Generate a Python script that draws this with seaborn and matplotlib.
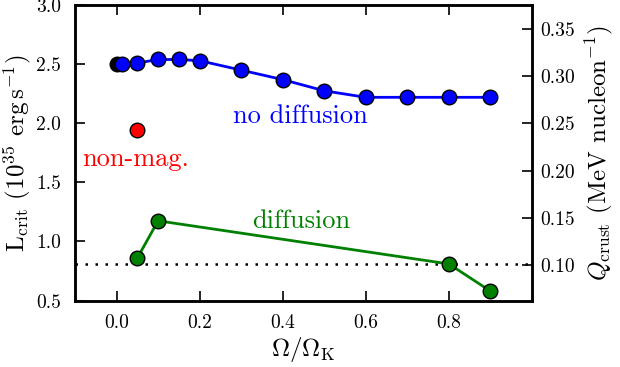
import numpy as np
import pandas as pd
import matplotlib
matplotlib.use("Agg")
import matplotlib.pyplot as plt
import seaborn as sns

# ---- data ----
omega_nodiff = [0.012, 0.05, 0.10, 0.15, 0.20, 0.30, 0.40, 0.50, 0.60, 0.70, 0.80, 0.90]
lcrit_nodiff = [2.50, 2.51, 2.54, 2.54, 2.53, 2.45, 2.37, 2.275, 2.22, 2.22, 2.22, 2.22]

omega_diff = [0.05, 0.10, 0.80, 0.90]
lcrit_diff = [0.86, 1.175, 0.81, 0.58]

omega_zero = [0.0]
lcrit_zero = [2.50]

omega_nonmag = [0.05]
lcrit_nonmag = [1.94]

l_ref = 0.81   # dotted reference level

xticks = [0.0, 0.2, 0.4, 0.6, 0.8]
yticks_l = [0.5, 1.0, 1.5, 2.0, 2.5, 3.0]
yticks_r = [0.10, 0.15, 0.20, 0.25, 0.30, 0.35]

sns.set_style("ticks")
plt.rcParams["font.family"] = "serif"
plt.rcParams["font.serif"] = ["cmr10", "DejaVu Serif"]
plt.rcParams["mathtext.fontset"] = "cm"
plt.rcParams["axes.formatter.use_mathtext"] = True
plt.rcParams["axes.unicode_minus"] = False
plt.rcParams["axes.edgecolor"] = "black"
plt.rcParams["xtick.color"] = "black"
plt.rcParams["ytick.color"] = "black"
plt.rcParams["axes.labelcolor"] = "black"

fig = plt.figure(figsize=(6.2, 3.67), dpi=100)
ax = fig.add_axes([0.121, 0.181, 0.737, 0.805])

ax.axhline(l_ref, color="black", linestyle=(0, (1, 3)), linewidth=1.8, zorder=1)

df_nd = pd.DataFrame({"x": omega_nodiff, "y": lcrit_nodiff})
df_d = pd.DataFrame({"x": omega_diff, "y": lcrit_diff})

mk = dict(marker="o", markersize=10.5, markeredgecolor="black", markeredgewidth=1.0)

sns.lineplot(x=omega_zero, y=lcrit_zero, ax=ax, color="black", linestyle="none",
             zorder=2, **mk)
sns.lineplot(data=df_nd, x="x", y="y", ax=ax, color="blue", linewidth=2,
             zorder=3, sort=False, **mk)
sns.lineplot(data=df_d, x="x", y="y", ax=ax, color="green", linewidth=2,
             zorder=3, sort=False, **mk)
sns.lineplot(x=omega_nonmag, y=lcrit_nonmag, ax=ax, color="red", linestyle="none",
             zorder=3, **mk)

ax.text(0.442, 2.06, "no diffusion", color="blue", fontsize=19, ha="center", va="center")
ax.text(0.046, 1.70, "non-mag.", color="red", fontsize=19, ha="center", va="center")
ax.text(0.445, 1.17, "diffusion", color="green", fontsize=19, ha="center", va="center")

ax.set_xlim(-0.1, 1.0)
ax.set_ylim(0.5, 3.0)
ax.set_xticks(xticks)
ax.set_yticks(yticks_l)
ax.set_xticklabels([f"{t:.1f}" for t in xticks])
ax.set_yticklabels([f"{t:.1f}" for t in yticks_l])
ax.set_xlabel(r"$\Omega/\Omega_{\rm K}$", fontsize=18, labelpad=2)
ax.set_ylabel(r"L$_{\rm crit}$ (10$^{35}$ erg$\,$s$^{-1}$)", fontsize=18, labelpad=2)
ax.tick_params(direction="in", length=7, width=1.2, labelsize=14, top=True,
               right=False, pad=10)

ax2 = ax.twinx()
ax2.set_ylim(0.0625, 0.375)
ax2.set_yticks(yticks_r)
ax2.set_yticklabels([f"{t:.2f}" for t in yticks_r])
ax2.set_ylabel(r"$Q_{\rm crust}$ (MeV nucleon$^{-1}$)", fontsize=18, labelpad=6)
ax2.tick_params(direction="in", length=7, width=1.2, labelsize=14, pad=6)

for a in (ax, ax2):
    for s in a.spines.values():
        s.set_linewidth(1.8)

fig.savefig("out.png", dpi=100)
